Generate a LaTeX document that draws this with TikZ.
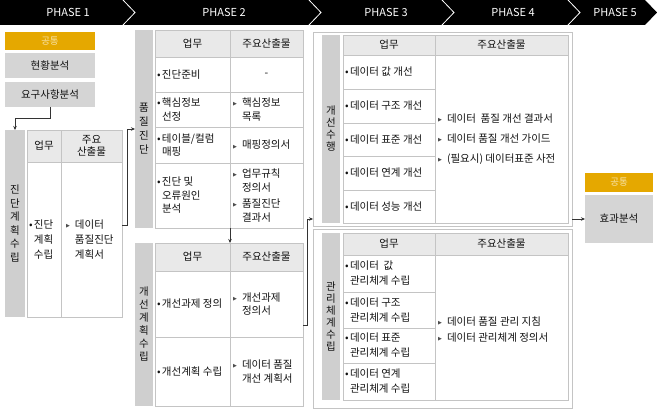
\documentclass[tikz,border=0pt]{standalone}
\usepackage{fontspec}
\setmainfont{Noto Sans CJK KR}
\newfontfamily\djv{DejaVu Sans}
\usetikzlibrary{arrows.meta}
\definecolor{orng}{HTML}{E5A800}
\definecolor{orngtxt}{HTML}{F7E2A6}
\definecolor{boxgrey}{HTML}{D5D5D5}
\definecolor{stripgrey}{HTML}{CFCFCF}
\definecolor{hdrgrey}{HTML}{E9E9E9}
\definecolor{linegrey}{HTML}{C4C4C4}
\definecolor{txtc}{HTML}{111111}
\newcommand\tbul{\makebox[5pt][l]{•}}
\newcommand\tind{\hspace*{5pt}}
\newcommand\obul{\makebox[9pt][l]{\raisebox{0.8pt}{\djv\fontsize{5}{5}\selectfont\color{black!70}▶}}}
\newcommand\oind{\hspace*{9pt}}
\tikzset{
  base/.style={inner sep=0pt, outer sep=0pt, anchor=north west, font=\fontsize{10.5}{14}\selectfont, text=txtc},
  gbox/.style={base, fill=boxgrey, align=center},
  obox/.style={base, fill=orng, text=orngtxt, align=center, font=\fontsize{9.5}{11}\selectfont},
  strip/.style={base, fill=stripgrey, align=center},
  hdr/.style={base, fill=hdrgrey, draw=linegrey, line width=0.6pt, align=center},
  cell/.style={base, fill=white, draw=linegrey, line width=0.6pt},
  outerbox/.style={base, draw=linegrey, line width=0.6pt},
  tx/.style={inner sep=0pt, outer sep=0pt, anchor=west, align=left, font=\fontsize{10.5}{13.5}\selectfont, text=txtc},
  phase/.style={inner sep=0pt, text=white, font=\fontsize{11}{12}\selectfont},
  arr/.style={-{Stealth[length=4pt,width=3.5pt]}, line width=0.6pt, draw=black!80},
  sz/.style 2 args={minimum width=#1, minimum height=#2},
}
\begin{document}
\begin{tikzpicture}[x=1pt,y=-1pt]
\useasboundingbox (0,0) rectangle (657,412);
\fill[white] (0,0) rectangle (657,412);
% header band
\fill[black] (0,0) -- (645,0) -- (657,12.5) -- (645,25) -- (0,25) -- cycle;
\foreach \xa in {123,309,442,568}
  \draw[white, line width=0.8pt] (\xa,0) -- (\xa+12,12.5) -- (\xa,25);
\node[phase] (ph1) at (68,12.5) {PHASE 1};
\node[phase] (ph2) at (224,12.5) {PHASE 2};
\node[phase] (ph3) at (386,12.5) {PHASE 3};
\node[phase] (ph4) at (513,12.5) {PHASE 4};
\node[phase] (ph5) at (615,12.5) {PHASE 5};

% ---------------- PHASE 1
\node[obox, sz={90}{18}] (p1c) at (5,32) {공통};
\node[gbox, sz={90}{25}] (p1a) at (5,53) {현황분석};
\node[gbox, sz={90}{25}] (p1b) at (5,82) {요구사항분석};
\node[strip, sz={20}{187}, font=\fontsize{10.5}{13.5}\selectfont] (p1s) at (5,130) {진\\단\\계\\획\\수\\립};
\node[hdr, sz={34}{32}] (p1h1) at (27,130) {업무};
\node[hdr, sz={61}{32}, font=\fontsize{10.5}{12}\selectfont] (p1h2) at (61,130) {주요\\산출물};
\node[cell, sz={34}{155}] (p1t1) at (27,162) {};
\node[cell, sz={61}{155}] (p1o1) at (61,162) {};
\node[tx, font=\fontsize{10.5}{15}\selectfont] (p1tt) at ([xshift=2pt]p1t1.west) {\tbul 진단\\\tind 계획\\\tind 수립};
\node[tx, font=\fontsize{10.5}{15}\selectfont] (p1ot) at ([xshift=5pt]p1o1.west) {\obul 데이터\\\oind 품질진단\\\oind 계획서};
\draw[arr] (p1b.south) -- ++(0,11) -| (p1s.north);

% ---------------- PHASE 2 top
\node[strip, sz={18}{198}] (p2s1) at (135,30) {품\\질\\진\\단};
\node[hdr, sz={75}{27}] (p2h1) at (155,30) {업무};
\node[hdr, sz={73}{27}] (p2h2) at (230,30) {주요산출물};
\node[cell, sz={75}{35}] (p2t1) at (155,57) {};
\node[cell, sz={73}{35}] (p2o1) at (230,57) {};
\node[cell, sz={75}{35}] (p2t2) at (155,92) {};
\node[cell, sz={73}{35}] (p2o2) at (230,92) {};
\node[cell, sz={75}{36}] (p2t3) at (155,127) {};
\node[cell, sz={73}{36}] (p2o3) at (230,127) {};
\node[cell, sz={75}{65}] (p2t4) at (155,163) {};
\node[cell, sz={73}{65}] (p2o4) at (230,163) {};
\node[tx] (p2tt1) at ([xshift=2pt]p2t1.west) {\tbul 진단준비};
\node[inner sep=0pt, text=txtc, font=\fontsize{10.5}{13.5}\selectfont] (p2ot1) at (p2o1.center) {-};
\node[tx] (p2tt2) at ([xshift=2pt]p2t2.west) {\tbul 핵심정보\\\tind 선정};
\node[tx] (p2ot2) at ([xshift=3pt]p2o2.west) {\obul 핵심정보\\\oind 목록};
\node[tx] (p2tt3) at ([xshift=2pt]p2t3.west) {\tbul 테이블/컬럼\\\tind 매핑};
\node[tx] (p2ot3) at ([xshift=3pt]p2o3.west) {\obul 매핑정의서};
\node[tx] (p2tt4) at ([xshift=2pt]p2t4.west) {\tbul 진단 및\\\tind 오류원인\\\tind 분석};
\node[tx, font=\fontsize{10.5}{14}\selectfont] (p2ot4) at ([xshift=3pt]p2o4.west) {\obul 업무규칙\\\oind 정의서\\[2pt]\obul 품질진단\\\oind 결과서};
\draw[arr] ([yshift=14pt]p1o1.east) -- ++(5,0) |- (p2s1.west);

% ---------------- PHASE 2 bottom
\node[strip, sz={18}{163}, font=\fontsize{10.5}{13}\selectfont] (p2s2) at (135,243) {개\\선\\계\\획\\수\\립};
\node[hdr, sz={75}{28}] (p2bh1) at (155,243) {업무};
\node[hdr, sz={73}{28}] (p2bh2) at (230,243) {주요산출물};
\node[cell, sz={75}{66}] (p2bt1) at (155,271) {};
\node[cell, sz={73}{66}] (p2bo1) at (230,271) {};
\node[cell, sz={75}{69}] (p2bt2) at (155,337) {};
\node[cell, sz={73}{69}] (p2bo2) at (230,337) {};
\node[tx] (p2btt1) at ([xshift=2pt]p2bt1.west) {\tbul 개선과제 정의};
\node[tx] (p2bot1) at ([xshift=3pt]p2bo1.west) {\obul 개선과제\\\oind 정의서};
\node[tx] (p2btt2) at ([xshift=2pt]p2bt2.west) {\tbul 개선계획 수립};
\node[tx] (p2bot2) at ([xshift=3pt]p2bo2.west) {\obul 데이터 품질\\\oind 개선 계획서};
\draw[arr] (p2t4.south east) -- (p2bh1.north east);

% ---------------- PHASE 3 top
\node[outerbox, sz={259}{194}] (p3a) at (313,32) {};
\node[strip, sz={18}{188}, font=\fontsize{10.5}{12}\selectfont] (p3s1) at (322,35) {개\\선\\수\\행};
\node[hdr, sz={92}{20}] (p3h1) at (343,35) {업무};
\node[hdr, sz={133}{20}] (p3h2) at (435,35) {주요산출물};
\node[cell, sz={92}{34}] (p3t1) at (343,55) {};
\node[cell, sz={92}{34}] (p3t2) at (343,89) {};
\node[cell, sz={92}{33}] (p3t3) at (343,123) {};
\node[cell, sz={92}{34}] (p3t4) at (343,156) {};
\node[cell, sz={92}{33}] (p3t5) at (343,190) {};
\node[cell, sz={133}{168}] (p3o) at (435,55) {};
\node[tx] (p3tt1) at ([xshift=2pt]p3t1.west) {\tbul 데이터 값 개선};
\node[tx] (p3tt2) at ([xshift=2pt]p3t2.west) {\tbul 데이터 구조 개선};
\node[tx] (p3tt3) at ([xshift=2pt]p3t3.west) {\tbul 데이터 표준 개선};
\node[tx] (p3tt4) at ([xshift=2pt]p3t4.west) {\tbul 데이터 연계 개선};
\node[tx] (p3tt5) at ([xshift=2pt]p3t5.west) {\tbul 데이터 성능 개선};
\node[tx, font=\fontsize{10.5}{20}\selectfont] (p3ot) at ([xshift=3pt]p3o.west) {\obul 데이터\ \ 품질 개선 결과서\\\obul 데이터 품질 개선 가이드\\\obul (필요시) 데이터표준 사전};

% ---------------- PHASE 3 bottom
\node[outerbox, sz={259}{179}] (p3b) at (313,229) {};
\node[strip, sz={18}{167}, font=\fontsize{10.5}{12}\selectfont] (p3s2) at (322,233) {관\\리\\체\\계\\수\\립};
\node[hdr, sz={92}{22}] (p3bh1) at (343,233) {업무};
\node[hdr, sz={133}{22}] (p3bh2) at (435,233) {주요산출물};
\node[cell, sz={92}{37}] (p3bt1) at (343,255) {};
\node[cell, sz={92}{36}] (p3bt2) at (343,292) {};
\node[cell, sz={92}{35}] (p3bt3) at (343,328) {};
\node[cell, sz={92}{37}] (p3bt4) at (343,363) {};
\node[cell, sz={133}{145}] (p3bo) at (435,255) {};
\node[tx, font=\fontsize{10.5}{15}\selectfont] (p3btt1) at ([xshift=2pt]p3bt1.west) {\tbul 데이터\ \ 값\\\tind 관리체계 수립};
\node[tx, font=\fontsize{10.5}{15}\selectfont] (p3btt2) at ([xshift=2pt]p3bt2.west) {\tbul 데이터 구조\\\tind 관리체계 수립};
\node[tx, font=\fontsize{10.5}{15}\selectfont] (p3btt3) at ([xshift=2pt]p3bt3.west) {\tbul 데이터 표준\\\tind 관리체계 수립};
\node[tx, font=\fontsize{10.5}{15}\selectfont] (p3btt4) at ([xshift=2pt]p3bt4.west) {\tbul 데이터 연계\\\tind 관리체계 수립};
\node[tx, font=\fontsize{10.5}{16}\selectfont] (p3bot) at ([xshift=3pt,yshift=-2pt]p3bo.west) {\obul 데이터 품질 관리 지침\\\obul 데이터 관리체계 정의서};

% ---------------- PHASE 5
\node[obox, sz={68}{19}] (p5c) at (585,173) {공통};
\node[gbox, sz={68}{48}] (p5b) at (585,195) {효과분석};

% connectors
\draw[arr] ([yshift=12pt]p2bo2.north east) -- ++(4,0) |- (p3a.west |- p5b.west);
\draw[arr] (p3a.east |- p5b.west) -- (p5b.west);
\end{tikzpicture}
\end{document}
